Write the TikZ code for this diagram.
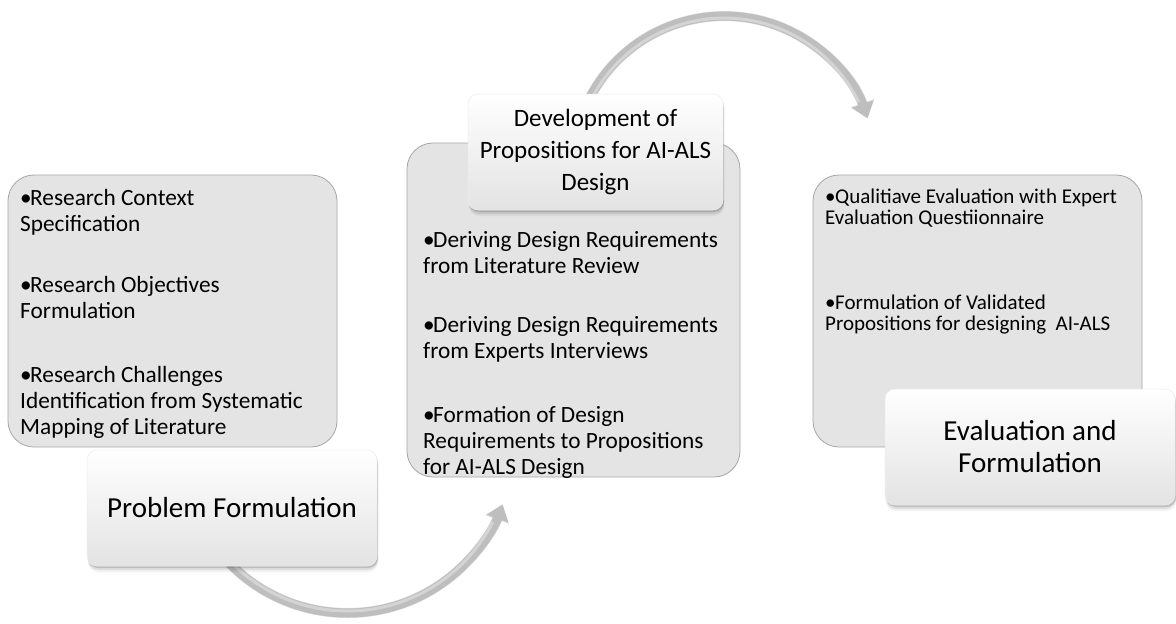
\documentclass[tikz,border=0pt]{standalone}
\usepackage{fontspec}
\setmainfont{Carlito}
\usetikzlibrary{arrows.meta,shadows}

\definecolor{panelfill}{HTML}{E4E4E4}
\definecolor{panelline}{HTML}{A6A6A6}
\definecolor{arcbody}{HTML}{BEBEBE}
\definecolor{arclight}{HTML}{D4D4D4}

% bullet paragraph with hanging indent: width, bullet box, lines
\newlength\bulw
\newcommand\bitem[3]{\parbox[t]{#1}{\setlength\bulw{#2}\raggedright
  \hangindent=\bulw\hangafter=1\noindent\makebox[\bulw][l]{\textbullet}#3}}

\tikzset{
  panel/.style={draw=panelline, line width=0.8pt, fill=panelfill,
    rounded corners=26pt, inner sep=0pt},
  softshadow/.style={
    drop shadow={shadow xshift=1pt, shadow yshift=-2pt, opacity=.14, fill=black},
    drop shadow={shadow xshift=1pt, shadow yshift=-4pt, opacity=.08, fill=black},
    drop shadow={shadow xshift=1pt, shadow yshift=-6pt, opacity=.05, fill=black}},
  stage/.style={softshadow, rounded corners=10pt, top color=white,
    middle color=white, bottom color=black!11, draw=black!7, line width=0.5pt,
    align=center, inner sep=0pt, text=black},
  bigitems/.style={inner sep=0pt, anchor=base west, text=black,
    font=\fontsize{23.3}{26}\selectfont},
  smallitems/.style={inner sep=0pt, anchor=base west, text=black,
    font=\fontsize{21}{21.5}\selectfont},
  arcshade/.style={draw=black, opacity=.13, line width=10pt,
    -{Triangle[length=16pt,width=24pt]}},
  arcmain/.style={draw=arcbody, line width=9pt,
    -{Triangle[length=15pt,width=22pt]}},
  arcglow/.style={draw=arclight, line width=3pt},
}

\begin{document}
\begin{tikzpicture}[x=1pt,y=-1pt]
\useasboundingbox (0,0) rectangle (1176,624);
\fill[white] (0,0) rectangle (1176,624);

% grey content panels
\node[panel, minimum width=329pt, minimum height=272pt] (pL) at (172.5,311) {};
\node[panel, minimum width=333pt, minimum height=334pt] (pM) at (573.5,310) {};
\node[panel, minimum width=329pt, minimum height=272pt] (pR) at (977.5,311) {};

% left panel items
\node[bigitems] (l1) at (20,205) {\bitem{310pt}{10pt}{Research Context\\Specification}};
\node[bigitems] (l2) at (20,292) {\bitem{310pt}{10pt}{Research Objectives\\Formulation}};
\node[bigitems] (l3) at (20,382) {\bitem{310pt}{10pt}{Research Challenges\\Identification from Systematic\\Mapping of Literature}};

% middle panel items
\node[bigitems] (m1) at (423,247) {\bitem{315pt}{10pt}{Deriving Design Requirements\\from Literature Review}};
\node[bigitems] (m2) at (423,332) {\bitem{315pt}{10pt}{Deriving Design Requirements\\from Experts Interviews}};
\node[bigitems] (m3) at (423,422) {\bitem{315pt}{10pt}{Formation of Design\\Requirements to Propositions\\for AI-ALS Design}};

% right panel items
\node[smallitems] (r1) at (825,203) {\bitem{315pt}{10pt}{Qualitiave Evaluation with Expert\\Evaluation Questiionnaire}};
\node[smallitems] (r2) at (825,309) {\bitem{315pt}{10pt}{Formulation of Validated\\Propositions for designing\ \ AI-ALS}};

% centres of the two curved arrows
\coordinate (cA) at (347.5,448);
\coordinate (cB) at (724.3,167.6);

% lower curved arrow
\draw[arcshade, xshift=1.5pt, yshift=-2.5pt] (cA) ++(140:165) arc[start angle=140, end angle=20, radius=165];
\draw[arcmain] (cA) ++(140:165) arc[start angle=140, end angle=20, radius=165];
\draw[arcglow] (cA) ++(140:163) arc[start angle=140, end angle=27, radius=163];

% upper curved arrow
\draw[arcshade, xshift=1.5pt, yshift=-2.5pt] (cB) ++(205:151.5) arc[start angle=205, end angle=341, radius=151.5];
\draw[arcmain] (cB) ++(205:151.5) arc[start angle=205, end angle=341, radius=151.5];
\draw[arcglow] (cB) ++(205:149.5) arc[start angle=205, end angle=334, radius=149.5];

% stage headings
\node[stage, minimum width=290pt, minimum height=116pt,
  font=\fontsize{29}{32}\selectfont] (prob) at (232,508) {Problem Formulation};
\node[stage, minimum width=255pt, minimum height=116pt,
  font=\fontsize{25}{32}\selectfont] (dev) at (595.5,152) {Development of\\Propositions for AI-ALS\\Design};
\node[stage, minimum width=290pt, minimum height=116pt,
  font=\fontsize{29}{32}\selectfont] (eval) at (1030,447) {Evaluation and\\Formulation};
\end{tikzpicture}
\end{document}
